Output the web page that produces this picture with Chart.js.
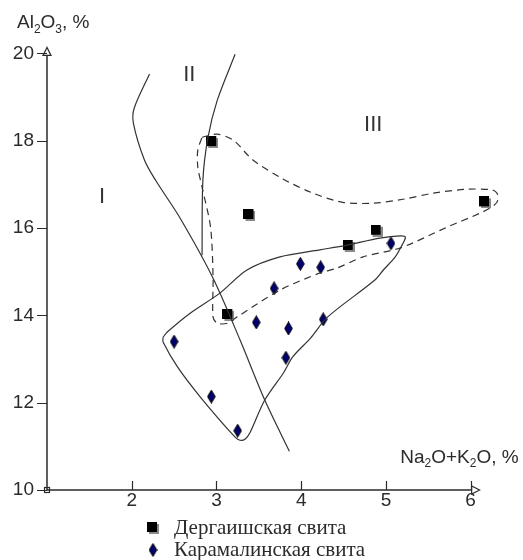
<!DOCTYPE html>
<html>
<head>
<meta charset="utf-8">
<script src="https://cdn.jsdelivr.net/npm/chart.js@4.4.1/dist/chart.umd.min.js"></script>
<style>
  html, body { margin: 0; padding: 0; background: #fff; }
  #wrap { width: 523px; height: 560px; position: relative; }
</style>
</head>
<body>
<div id="wrap"><canvas id="chart"></canvas></div>
<script>
// Tick labels
const xTicks = [2, 3, 4, 5, 6];
const yTicks = [10, 12, 14, 16, 18, 20];

// Дергаишская свита (squares)
const dergX = [2.95, 3.39, 3.14, 4.56, 4.89, 6.17];
const dergY = [17.97, 16.30, 14.01, 15.59, 15.94, 16.59];

// Карамалинская свита (diamonds)
const karamX = [2.50, 2.94, 3.25, 3.47, 3.68, 3.85, 3.82, 3.99, 4.23, 4.26, 5.06];
const karamY = [13.40, 12.14, 11.36, 13.84, 14.62, 13.70, 13.03, 15.18, 15.10, 13.91, 15.65];

// Field boundaries I / II and II / III
const lineI_II = [[2.21, 19.53], [2.03, 18.75], [2.02, 18.40], [2.15, 17.56], [2.28, 17.10],
  [2.57, 16.23], [2.96, 14.85], [3.28, 13.43], [3.57, 12.06], [3.86, 10.89]];
const lineII_III = [[3.22, 19.98], [3.01, 18.93], [2.90, 18.08], [2.84, 17.10], [2.83, 15.38]];

// Contour of Дергаишская свита (dashed)
const fieldDerg = [[2.83, 18.08], [3.01, 18.15], [3.20, 18.01], [3.43, 17.56], [3.79, 17.12],
  [4.14, 16.80], [4.49, 16.59], [4.85, 16.57], [5.20, 16.66], [5.56, 16.80], [5.96, 16.89],
  [6.26, 16.87], [6.32, 16.76], [6.31, 16.59], [6.23, 16.46], [6.11, 16.34], [5.72, 16.02],
  [5.32, 15.66], [5.13, 15.52], [4.73, 15.34], [4.42, 15.08], [4.22, 14.97], [3.75, 14.58],
  [3.24, 13.96], [3.13, 13.82], [3.01, 13.82], [2.96, 13.96], [2.96, 14.88], [2.93, 16.02],
  [2.83, 16.94], [2.78, 17.40], [2.78, 17.79], [2.83, 18.08]];

// Contour of Карамалинская свита (solid)
const fieldKaram = [[2.37, 13.50], [2.42, 13.62], [2.69, 14.05], [3.04, 14.51], [3.36, 15.04],
  [3.75, 15.34], [4.22, 15.50], [4.54, 15.61], [4.93, 15.77], [5.17, 15.82], [5.23, 15.79],
  [5.19, 15.61], [5.11, 15.34], [4.97, 15.04], [4.87, 14.81], [4.31, 13.96], [4.11, 13.48],
  [3.90, 13.05], [3.79, 12.68], [3.57, 12.06], [3.40, 11.33], [3.34, 11.17], [3.28, 11.14],
  [3.22, 11.21], [2.81, 12.13], [2.54, 12.82], [2.37, 13.39], [2.37, 13.50]];

// Field names
const fieldNames = ['I', 'II', 'III'];
const fieldNameX = [1.65, 2.68, 4.85];
const fieldNameY = [16.71, 19.50, 18.36];

const legendNames = ['Дергаишская свита', 'Карамалинская свита'];

const INK = '#2b2b2b';
const FONT = '"Liberation Sans", Arial, sans-serif';

// Marker images
function makeSquare() {
  const c = document.createElement('canvas');
  c.width = 12; c.height = 12;
  const g = c.getContext('2d');
  g.fillStyle = '#8a8a8a';
  g.fillRect(2, 2, 10, 10);
  g.fillStyle = '#000';
  g.fillRect(0, 0, 10, 10);
  return c;
}
function makeDiamond() {
  const c = document.createElement('canvas');
  c.width = 9; c.height = 14;
  const g = c.getContext('2d');
  g.beginPath();
  g.moveTo(4.5, 0.5);
  g.lineTo(8.3, 7);
  g.lineTo(4.5, 13.5);
  g.lineTo(0.7, 7);
  g.closePath();
  g.fillStyle = '#00006e';
  g.fill();
  g.strokeStyle = '#000';
  g.lineWidth = 1;
  g.stroke();
  return c;
}
const squareImg = makeSquare();
const diamondImg = makeDiamond();

function toPoints(xs, ys) {
  return xs.map((v, i) => ({ x: v, y: ys[i] }));
}
function pairs(arr) {
  return arr.map(p => ({ x: p[0], y: p[1] }));
}

// Text with subscripts: parts = [[text, isSub], ...]
function drawRich(ctx, parts, x, y, align, size) {
  const big = size + 'px ' + FONT;
  const small = Math.round(size * 0.62) + 'px ' + FONT;
  let total = 0;
  parts.forEach(p => { ctx.font = p[1] ? small : big; total += ctx.measureText(p[0]).width; });
  let cx = align === 'right' ? x - total : x;
  ctx.textAlign = 'left';
  ctx.textBaseline = 'alphabetic';
  parts.forEach(p => {
    ctx.font = p[1] ? small : big;
    ctx.fillText(p[0], cx, p[1] ? y + size * 0.22 : y);
    cx += ctx.measureText(p[0]).width;
  });
}

const decorPlugin = {
  id: 'decor',
  beforeDatasetsDraw(chart) {
    const { ctx, scales: { x, y } } = chart;
    const x0 = x.getPixelForValue(1);
    const y0 = y.getPixelForValue(10);
    const xEnd = x.getPixelForValue(6) + 9;
    const yEnd = y.getPixelForValue(20) - 6;
    ctx.save();
    ctx.strokeStyle = INK;
    ctx.lineWidth = 1.5;
    // axes
    ctx.beginPath();
    ctx.moveTo(x0, y0);
    ctx.lineTo(xEnd - 8, y0);
    ctx.moveTo(x0, y0);
    ctx.lineTo(x0, yEnd + 8);
    ctx.stroke();
    ctx.lineWidth = 1.2;
    // arrows (open triangles)
    ctx.beginPath();
    ctx.moveTo(xEnd, y0);
    ctx.lineTo(xEnd - 8, y0 - 4);
    ctx.lineTo(xEnd - 8, y0 + 4);
    ctx.closePath();
    ctx.moveTo(x0, yEnd);
    ctx.lineTo(x0 - 4, yEnd + 8);
    ctx.lineTo(x0 + 4, yEnd + 8);
    ctx.closePath();
    ctx.stroke();
    // tick marks
    ctx.beginPath();
    xTicks.forEach(v => {
      const px = Math.round(x.getPixelForValue(v)) + 0.5;
      ctx.moveTo(px, y0);
      ctx.lineTo(px, y0 - 9);
    });
    yTicks.forEach(v => {
      const py = Math.round(y.getPixelForValue(v)) + 0.5;
      ctx.moveTo(x0 - 10, py);
      ctx.lineTo(x0, py);
    });
    ctx.stroke();
    // origin mark
    ctx.strokeRect(x0 - 2.5, y0 - 2.5, 5, 5);
    ctx.restore();
  },
  afterDraw(chart) {
    const { ctx, scales: { x, y } } = chart;
    const x0 = x.getPixelForValue(1);
    const y0 = y.getPixelForValue(10);
    ctx.save();
    ctx.fillStyle = INK;
    // axis titles
    drawRich(ctx, [['Al', 0], ['2', 1], ['O', 0], ['3', 1], [', %', 0]], x0 - 30, y.getPixelForValue(20) - 25, 'left', 19);
    drawRich(ctx, [['Na', 0], ['2', 1], ['O+K', 0], ['2', 1], ['O, %', 0]], x.getPixelForValue(6) + 48, y0 - 27, 'right', 19);
    // field names
    ctx.font = '22px ' + FONT;
    ctx.fillStyle = '#333';
    ctx.textAlign = 'center';
    ctx.textBaseline = 'middle';
    fieldNames.forEach((t, i) => {
      ctx.fillText(t, x.getPixelForValue(fieldNameX[i]), y.getPixelForValue(fieldNameY[i]));
    });
    // legend
    const imgs = [squareImg, diamondImg];
    ctx.font = '21px "Liberation Serif", "Times New Roman", serif';
    ctx.fillStyle = INK;
    ctx.textAlign = 'left';
    ctx.textBaseline = 'middle';
    legendNames.forEach((t, i) => {
      const ly = y0 + 38 + i * 22;
      const im = imgs[i];
      ctx.drawImage(im, 153 - im.width / 2, ly - im.height / 2);
      ctx.fillText(t, 174, ly);
    });
    ctx.restore();
  }
};

const lineStyle = {
  showLine: true,
  pointRadius: 0,
  borderColor: '#333',
  borderWidth: 1.2,
  tension: 0.3,
  fill: false
};

new Chart(document.getElementById('chart'), {
  type: 'scatter',
  data: {
    datasets: [
      Object.assign({ label: 'I-II', data: pairs(lineI_II) }, lineStyle),
      Object.assign({ label: 'II-III', data: pairs(lineII_III) }, lineStyle),
      Object.assign({ label: 'field-derg', data: pairs(fieldDerg), borderDash: [7, 5] }, lineStyle),
      Object.assign({ label: 'field-karam', data: pairs(fieldKaram) }, lineStyle),
      {
        label: legendNames[0],
        data: toPoints(dergX, dergY),
        pointStyle: squareImg,
        pointRadius: 5,
        showLine: false
      },
      {
        label: legendNames[1],
        data: toPoints(karamX, karamY),
        pointStyle: diamondImg,
        pointRadius: 5,
        showLine: false
      }
    ]
  },
  options: {
    responsive: true,
    maintainAspectRatio: false,
    animation: false,
    events: [],
    layout: { padding: { left: 0, right: 10, top: 36, bottom: 40 } },
    plugins: {
      legend: { display: false },
      tooltip: { enabled: false }
    },
    scales: {
      x: {
        type: 'linear',
        min: 1,
        max: 6.5,
        grid: { display: false, drawTicks: false },
        border: { display: false },
        afterBuildTicks: s => { s.ticks = xTicks.map(v => ({ value: v })); },
        afterFit: s => { s.height = 30; },
        ticks: { color: INK, font: { family: FONT, size: 19 }, padding: -1 }
      },
      y: {
        type: 'linear',
        min: 10,
        max: 20.4,
        grid: { display: false, drawTicks: false },
        border: { display: false },
        afterBuildTicks: s => { s.ticks = yTicks.map(v => ({ value: v })); },
        afterFit: s => { s.width = 47; },
        ticks: { color: INK, font: { family: FONT, size: 19 }, padding: 13 }
      }
    }
  },
  plugins: [decorPlugin]
});
</script>
</body>
</html>
